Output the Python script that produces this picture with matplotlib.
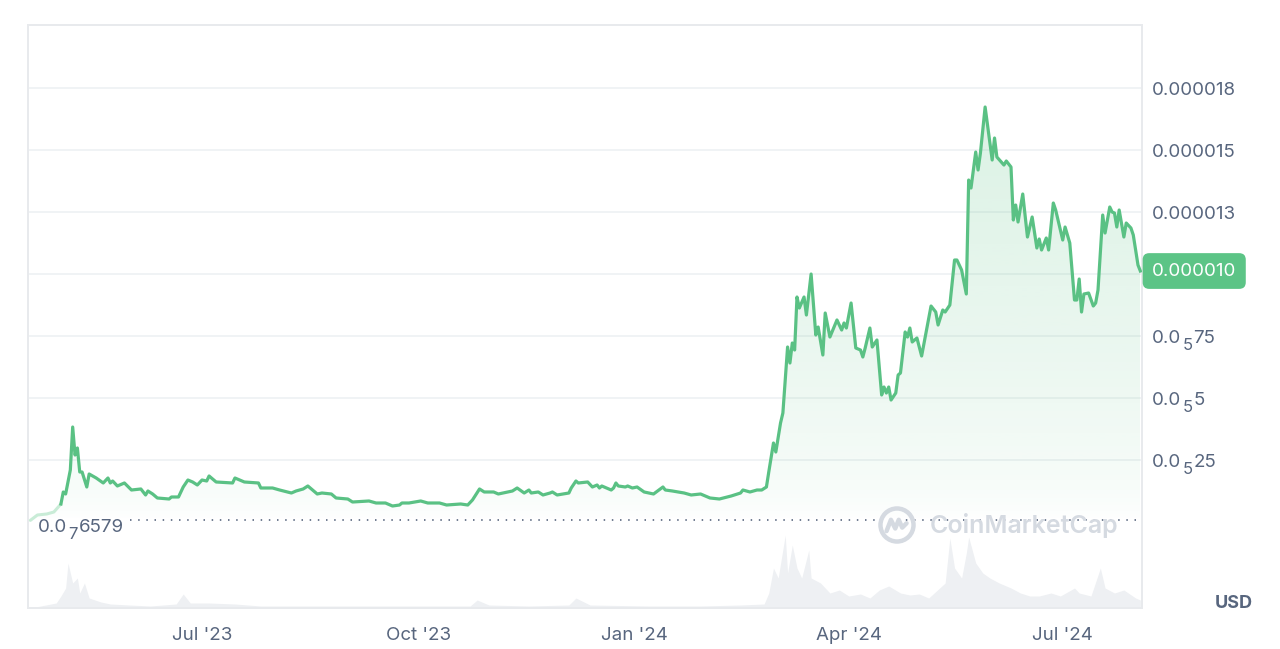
import numpy as np
import pandas as pd
import matplotlib
matplotlib.use("Agg")
import matplotlib.pyplot as plt
import matplotlib.dates as mdates
import matplotlib.transforms as mtransforms
from matplotlib.colors import to_rgb
from matplotlib.patches import Circle

# ---------------- data ----------------
price_dates = [
    "2023-04-19","2023-04-22","2023-04-26","2023-04-29","2023-05-02","2023-05-03","2023-05-04","2023-05-06","2023-05-07","2023-05-08",
    "2023-05-09","2023-05-10","2023-05-11","2023-05-13","2023-05-14","2023-05-17","2023-05-20","2023-05-22","2023-05-23","2023-05-24",
    "2023-05-26","2023-05-29","2023-06-01","2023-06-05","2023-06-07","2023-06-08","2023-06-10","2023-06-12","2023-06-17","2023-06-18",
    "2023-06-21","2023-06-23","2023-06-25","2023-06-27","2023-06-29","2023-07-01","2023-07-03","2023-07-04","2023-07-07","2023-07-14",
    "2023-07-15","2023-07-19","2023-07-25","2023-07-26","2023-07-31",
    "2023-08-03","2023-08-08","2023-08-10","2023-08-13","2023-08-15","2023-08-19","2023-08-21","2023-08-25","2023-08-27","2023-09-01",
    "2023-09-03","2023-09-10","2023-09-13","2023-09-17","2023-09-20","2023-09-23","2023-09-24","2023-09-27","2023-10-02","2023-10-05",
    "2023-10-10","2023-10-13","2023-10-19","2023-10-22","2023-10-24","2023-10-27","2023-10-29","2023-11-02","2023-11-04","2023-11-08",
    "2023-11-10","2023-11-12",
    "2023-11-15","2023-11-17","2023-11-18","2023-11-21","2023-11-23","2023-11-26","2023-11-27","2023-11-29","2023-12-04","2023-12-05",
    "2023-12-07","2023-12-08","2023-12-12","2023-12-14","2023-12-16","2023-12-17","2023-12-18","2023-12-22","2023-12-23","2023-12-24",
    "2023-12-25","2023-12-28","2023-12-29","2023-12-31","2024-01-02","2024-01-05","2024-01-09","2024-01-13","2024-01-14","2024-01-17",
    "2024-01-22","2024-01-25","2024-01-29","2024-02-02","2024-02-06","2024-02-11","2024-02-15","2024-02-16","2024-02-19","2024-02-22",
    "2024-02-24","2024-02-26","2024-02-27",
    "2024-02-29","2024-03-01","2024-03-03","2024-03-04","2024-03-06","2024-03-07","2024-03-08","2024-03-09","2024-03-10","2024-03-11",
    "2024-03-13","2024-03-14","2024-03-16","2024-03-18","2024-03-19","2024-03-21","2024-03-22","2024-03-24","2024-03-27","2024-03-29",
    "2024-03-30","2024-03-31","2024-04-02","2024-04-04","2024-04-06","2024-04-07","2024-04-08","2024-04-10","2024-04-11","2024-04-13",
    "2024-04-15","2024-04-16","2024-04-17","2024-04-18","2024-04-19","2024-04-21","2024-04-22","2024-04-23","2024-04-25","2024-04-26",
    "2024-04-27","2024-04-28","2024-04-30","2024-05-02","2024-05-06","2024-05-08","2024-05-09","2024-05-11","2024-05-12","2024-05-14",
    "2024-05-16","2024-05-17","2024-05-19","2024-05-21","2024-05-22","2024-05-23","2024-05-25","2024-05-26","2024-05-27","2024-05-29",
    "2024-06-01","2024-06-02","2024-06-03","2024-06-06","2024-06-07","2024-06-09","2024-06-10","2024-06-11","2024-06-12","2024-06-14",
    "2024-06-16","2024-06-18","2024-06-20","2024-06-21","2024-06-22","2024-06-24","2024-06-25","2024-06-27","2024-06-28","2024-07-01",
    "2024-07-02","2024-07-04","2024-07-06","2024-07-07","2024-07-08","2024-07-09","2024-07-10","2024-07-12","2024-07-14","2024-07-15",
    "2024-07-16","2024-07-18","2024-07-19","2024-07-21","2024-07-22","2024-07-23","2024-07-24","2024-07-25","2024-07-27","2024-07-28",
    "2024-07-30","2024-07-31","2024-08-02","2024-08-03",
]

# price in micro-USD (1e-6 USD)
price_micro = [
    0.066, 0.282, 0.323, 0.403, 0.726, 1.210, 1.129, 2.097, 3.830, 2.701,
    2.984, 2.016, 2.016, 1.411, 1.935, 1.774, 1.573, 1.774, 1.573, 1.653,
    1.452, 1.573, 1.290, 1.331, 1.089, 1.250, 1.129, 0.968, 0.927, 1.008,
    1.008, 1.411, 1.693, 1.613, 1.492, 1.693, 1.653, 1.855, 1.613, 1.573,
    1.774, 1.613, 1.573, 1.371, 1.371,
    1.290, 1.169, 1.250, 1.331, 1.452, 1.129, 1.169, 1.129, 0.968, 0.927,
    0.806, 0.847, 0.766, 0.766, 0.645, 0.685, 0.766, 0.766, 0.847, 0.766,
    0.766, 0.685, 0.726, 0.685, 0.887, 1.331, 1.210, 1.210, 1.129, 1.210,
    1.250, 1.371,
    1.169, 1.290, 1.169, 1.210, 1.089, 1.169, 1.210, 1.089, 1.169, 1.371,
    1.653, 1.573, 1.613, 1.411, 1.492, 1.371, 1.452, 1.290, 1.371, 1.573,
    1.452, 1.411, 1.452, 1.371, 1.411, 1.210, 1.129, 1.411, 1.290, 1.250,
    1.169, 1.089, 1.129, 0.968, 0.927, 1.048, 1.169, 1.290, 1.210, 1.290,
    1.290, 1.411, 2.016,
    3.185, 2.822, 3.992, 4.395, 7.056, 6.411, 7.217, 6.935, 9.072, 8.628,
    9.072, 8.346, 9.999, 7.540, 7.862, 6.733, 8.427, 7.459, 8.145, 7.741,
    8.024, 7.822, 8.830, 7.016, 6.935, 6.653, 7.016, 7.822, 7.056, 7.338,
    5.121, 5.443, 5.201, 5.443, 4.919, 5.201, 5.927, 6.008, 7.661, 7.459,
    7.822, 7.258, 7.419, 6.693, 8.709, 8.467, 7.943, 8.548, 8.467, 8.749,
    10.564, 10.564, 10.161, 9.193, 13.789, 13.467, 14.918, 14.193, 14.878, 16.733,
    14.596, 15.483, 14.717, 14.394, 14.556, 14.314, 12.177, 12.781, 12.096, 13.225,
    11.491, 12.298, 11.048, 11.411, 10.967, 11.451, 10.967, 12.862, 12.580, 11.370,
    11.894, 11.249, 8.951, 8.951, 9.798, 8.467, 9.193, 9.233, 8.709, 8.830,
    9.354, 12.378, 11.652, 12.701, 12.499, 12.459, 11.894, 12.580, 11.491, 12.056,
    11.854, 11.572, 10.362, 10.120,
]

volume_dates = [
    "2023-04-19","2023-04-30","2023-05-02","2023-05-04","2023-05-05","2023-05-07","2023-05-09","2023-05-10","2023-05-12","2023-05-14",
    "2023-05-19","2023-05-23","2023-05-31","2023-06-09","2023-06-20","2023-06-23","2023-06-26","2023-07-04","2023-07-15","2023-07-26",
    "2023-08-12","2023-09-02","2023-09-23","2023-10-23","2023-10-26","2023-10-31","2023-11-17","2023-12-04","2023-12-07","2023-12-13",
    "2024-01-07","2024-01-29","2024-02-15","2024-02-25","2024-02-27","2024-02-29","2024-03-02","2024-03-05","2024-03-06","2024-03-08",
    "2024-03-10","2024-03-12","2024-03-15","2024-03-16","2024-03-20","2024-03-24","2024-03-28","2024-04-01","2024-04-06","2024-04-10",
    "2024-04-14","2024-04-18","2024-04-23","2024-04-27","2024-05-01","2024-05-05","2024-05-12","2024-05-14","2024-05-16","2024-05-19",
    "2024-05-21","2024-05-22","2024-05-25","2024-05-28","2024-05-31","2024-06-04","2024-06-09","2024-06-13","2024-06-17","2024-06-21",
    "2024-06-26","2024-06-30","2024-07-06","2024-07-08","2024-07-13","2024-07-17","2024-07-19","2024-07-23","2024-07-27","2024-08-01",
    "2024-08-03",
]
# volume in million USD
volume_musd = [
    0, 200, 480, 800, 1800, 1000, 1200, 600, 1000, 400,
    240, 160, 120, 80, 160, 560, 200, 200, 160, 80,
    80, 80, 80, 80, 320, 120, 80, 120, 400, 120,
    80, 80, 120, 160, 600, 1600, 1200, 2920, 1400, 2520,
    1600, 1200, 2320, 1200, 1000, 600, 720, 480, 560, 400,
    720, 880, 600, 520, 560, 400, 1000, 2800, 1600, 1200,
    2200, 2840, 1800, 1400, 1200, 1000, 800, 600, 480, 480,
    600, 480, 800, 600, 480, 1600, 800, 600, 720, 400,
    320,
]

ytick_values_micro = [2.5, 5.0, 7.5, 10.0, 12.5, 15.0, 17.5]
# each label: (head, subscript zero-count, tail); plain labels have empty subscript
ytick_labels = [("0.0", "5", "25"), ("0.0", "5", "5"), ("0.0", "5", "75"), ("", "", ""),
                ("0.000013", "", ""), ("0.000015", "", ""), ("0.000018", "", "")]
xtick_dates = ["2023-07-01", "2023-10-01", "2024-01-01", "2024-04-01", "2024-07-01"]
xtick_labels = ["Jul '23", "Oct '23", "Jan '24", "Apr '24", "Jul '24"]
base_label = ("0.0", "7", "6579")
current_label = "0.000010"

# ---------------- style ----------------
plt.rcParams['font.family'] = ['Inter', 'DejaVu Sans']

GREEN = '#5ac184'
BOX_GREEN = '#5cc486'
TXT = '#58667e'
GRID = '#eff2f5'
SPINE = '#e8eaed'
VOL = '#eef0f3'
FS = 13.5
FS_SUB = 12

x = mdates.date2num(pd.to_datetime(price_dates))
p = np.array(price_micro) * 1e-6
xv = mdates.date2num(pd.to_datetime(volume_dates))
v = np.array(volume_musd)
base = p[0]

fig = plt.figure(figsize=(12.8, 6.49), dpi=100)
renderer = fig.canvas.get_renderer()
pos = [28 / 1280, 41 / 649, 1114 / 1280, 583 / 649]
axv = fig.add_axes(pos)
ax = fig.add_axes(pos, sharex=axv)
ax.patch.set_visible(False)

# volume
axv.fill_between(xv, v, 0, color=VOL, lw=0)
axv.set_ylim(0, 23320)
axv.axis('off')

# gradient fill under price
poly = ax.fill_between(x, p, base, color='none', lw=0)
n = 256
frac = np.linspace(0, 1, n)
rgba = np.zeros((n, 1, 4))
rgba[..., :3] = to_rgb(GREEN)
rgba[..., 3] = (0.21 * frac ** 0.6)[:, None]
im = ax.imshow(rgba, extent=[x.min(), x.max(), base, p.max()], origin='lower',
               aspect='auto', zorder=1, interpolation='bilinear')
im.set_clip_path(poly.get_paths()[0], transform=ax.transData)

# price line (first, faint launch segment)
ax.plot(x[:5], p[:5], color='#c9ecd7', lw=2.2, zorder=3, solid_capstyle='round')
ax.plot(x[4:], p[4:], color=GREEN, lw=2.3, zorder=4, solid_joinstyle='round')

# axes limits
ax.set_xlim(mdates.date2num(pd.Timestamp("2023-04-18")),
            mdates.date2num(pd.Timestamp("2024-08-03 17:00")))
ax.set_ylim(-3.468e-6, 20.04e-6)

btrans = mtransforms.blended_transform_factory(ax.transAxes, ax.transData)


def sub_text(xa, y, parts, dx, dy):
    """Draw head + lowered subscript + tail, baseline-aligned, starting dx pt right of (xa, y)."""
    head, sub, tail = parts
    cur = dx
    for txt, size, off in ((head, FS, 0.0), (sub, FS_SUB, -5.0), (tail, FS, 0.0)):
        if not txt:
            continue
        t = ax.annotate(txt, xy=(xa, y), xycoords=btrans, xytext=(cur, dy + off),
                        textcoords='offset points', ha='left', va='baseline',
                        fontsize=size, color=TXT, annotation_clip=False)
        cur += t.get_window_extent(renderer).width * 72 / fig.dpi + 0.8


# baseline dotted line and label
ax.axhline(base, xmin=0.092, xmax=1.0, color=TXT, lw=1.2, ls=(0, (0.9, 4.0)), zorder=2)
sub_text(0.009, base, base_label, 0, -8.3)

# y ticks on right (labels drawn manually so the zero-count subscript can be lowered)
ax.yaxis.tick_right()
ax.set_yticks(np.array(ytick_values_micro) * 1e-6)
ax.set_yticklabels([])
ax.tick_params(axis='y', length=0)
for val, parts in zip(ytick_values_micro, ytick_labels):
    sub_text(1.0, val * 1e-6, parts, 7.1, -5.0)
ax.grid(axis='y', color=GRID, lw=1.3)
ax.set_axisbelow(True)

# x ticks
ax.set_xticks(mdates.date2num(pd.to_datetime(xtick_dates)))
ax.set_xticklabels(xtick_labels)
ax.tick_params(axis='x', length=0, pad=14, labelsize=FS, labelcolor=TXT)
ax.grid(axis='x', visible=False)

for s in ax.spines.values():
    s.set_color(SPINE)
    s.set_linewidth(1.4)

# current price box
ax.text(1.009, p[-1], current_label, transform=btrans, va='center', ha='left',
        color='white', fontsize=FS, clip_on=False, zorder=6,
        bbox=dict(boxstyle='round,pad=0.5,rounding_size=0.35', fc=BOX_GREEN, ec='none'))

# watermark
WM = '#d5dae1'
fig.text(930 / 1280, 1 - 526 / 649, "CoinMarketCap", fontsize=18, fontweight='semibold',
         color=WM, ha='left', va='center', zorder=0)
logo = fig.add_axes([877 / 1280, 1 - 545 / 649, 40 / 1280, 40 / 649])
logo.set_xlim(-1.15, 1.15)
logo.set_ylim(-1.15, 1.15)
logo.set_aspect('equal')
logo.axis('off')
logo.add_patch(Circle((0, 0), 0.95, fill=False, ec=WM, lw=3.2))
logo.plot([-0.6, -0.35, -0.1, 0.1, 0.3, 0.55], [-0.35, 0.3, -0.2, 0.3, -0.15, 0.1],
          color=WM, lw=3.2, solid_joinstyle='round', solid_capstyle='round')

fig.text(1234 / 1280, 1 - 604 / 649, "USD", ha='center', va='center', fontsize=13,
         fontweight='bold', color=TXT)

fig.savefig("out.png", dpi=100, facecolor='white')
